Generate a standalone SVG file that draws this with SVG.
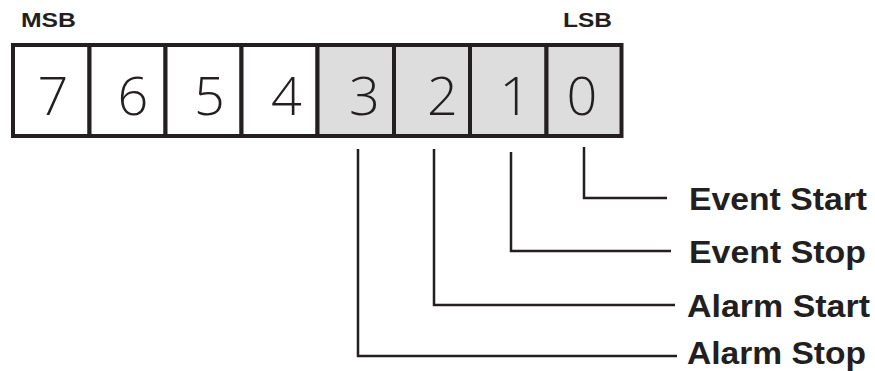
<svg xmlns="http://www.w3.org/2000/svg" width="875" height="371" viewBox="0 0 875 371">
<style>
.cell{stroke:#231f20;stroke-width:4;fill:#ffffff}
.cell.hl{fill:#dddddd}
.dig{font-family:"Open Sans",Lato,"DejaVu Sans",sans-serif;font-weight:300;font-size:54px;fill:#231f20;text-anchor:middle}
.lbl{font-family:"Liberation Sans",Arial,sans-serif;font-weight:bold;font-size:32px;fill:#231f20}
.hdr{font-family:"Liberation Sans",Arial,sans-serif;font-weight:bold;font-size:20px;fill:#231f20}
.con{stroke:#231f20;stroke-width:2.5;fill:none}
</style>
<rect width="875" height="371" fill="#ffffff"/>
<text class="hdr" x="21" y="27" textLength="55" lengthAdjust="spacingAndGlyphs">MSB</text>
<text class="hdr" x="563" y="27" textLength="49" lengthAdjust="spacingAndGlyphs">LSB</text>
<g id="bit7"><rect class="cell" x="13" y="45" width="76.5" height="91"/><text class="dig" x="53" y="115">7</text></g>
<g id="bit6"><rect class="cell" x="89.5" y="45" width="76" height="91"/><text class="dig" x="133" y="115">6</text></g>
<g id="bit5"><rect class="cell" x="165.5" y="45" width="76" height="91"/><text class="dig" x="209.5" y="115">5</text></g>
<g id="bit4"><rect class="cell" x="241.5" y="45" width="76" height="91"/><text class="dig" x="286.5" y="115">4</text></g>
<g id="bit3"><rect class="cell hl" x="317.5" y="45" width="76.5" height="91"/><text class="dig" x="364.5" y="115">3</text></g>
<g id="bit2"><rect class="cell hl" x="394" y="45" width="76" height="91"/><text class="dig" x="442.5" y="115">2</text></g>
<g id="bit1"><rect class="cell hl" x="470" y="45" width="76.5" height="91"/><text class="dig" x="515" y="115">1</text></g>
<g id="bit0"><rect class="cell hl" x="546.5" y="45" width="75" height="91"/><text class="dig" x="582" y="115">0</text></g>
<g id="connectors">
<polyline class="con" points="584,147 584,198 667,198"/>
<polyline class="con" points="511,152 511,251 671,251"/>
<polyline class="con" points="434,149 434,305 675,305"/>
<polyline class="con" points="358,149 358,356 677,356"/>
</g>
<g id="labels">
<text class="lbl" x="689" y="210" textLength="178" lengthAdjust="spacingAndGlyphs">Event Start</text>
<text class="lbl" x="689" y="263" textLength="177" lengthAdjust="spacingAndGlyphs">Event Stop</text>
<text class="lbl" x="687" y="317" textLength="183" lengthAdjust="spacingAndGlyphs">Alarm Start</text>
<text class="lbl" x="687" y="364" textLength="179" lengthAdjust="spacingAndGlyphs">Alarm Stop</text>
</g>
</svg>
